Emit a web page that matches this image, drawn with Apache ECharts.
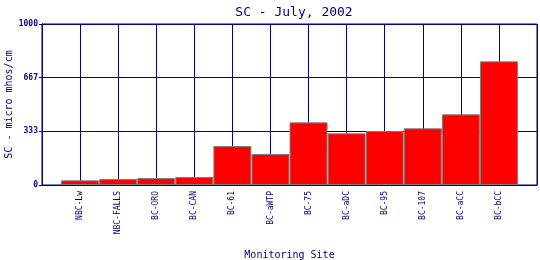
<!DOCTYPE html>
<html><head><meta charset="utf-8">
<script src="https://cdn.jsdelivr.net/npm/echarts@6/dist/echarts.min.js"></script>
<style>html,body{margin:0;padding:0;background:#fff}#c{width:540px;height:260px}</style>
</head><body><div id="c"></div>
<script>
var sites = ['NBC-Lw','NBC-FALLS','BC-ORO','BC-CAN','BC-61','BC-aWTP','BC-75','BC-aDC','BC-95','BC-107','BC-aCC','BC-bCC'];
var scValues = [29, 37, 43, 50, 242, 193, 389, 321, 335, 352, 439, 768];
var yTicks = [0, 333, 667, 1000];

var navy = '#000080';
var font = '"DejaVu Sans Mono", monospace';
var cats = [''].concat(sites).concat(['']);
var data = [null].concat(scValues).concat([null]);

var chart = echarts.init(document.getElementById('c'));
chart.setOption({
  animation: false,
  backgroundColor: '#fff',
  title: {
    text: 'SC - July, 2002', left: 289, top: 1, textAlign: 'center',
    textStyle: {color: navy, fontFamily: font, fontSize: 13, fontWeight: 'normal'}
  },
  grid: {left: 42, right: 3, top: 24, bottom: 75, containLabel: false, outerBoundsMode: 'none',
    show: true, borderColor: navy, borderWidth: 1, backgroundColor: 'transparent'},
  xAxis: {
    type: 'category', data: cats, boundaryGap: false,
    name: 'Monitoring Site', nameLocation: 'middle', nameGap: 65, nameMoveOverlap: false,
    nameTextStyle: {color: navy, fontFamily: font, fontSize: 10},
    axisLine: {show: true, lineStyle: {color: navy, width: 1}},
    axisTick: {show: false},
    axisLabel: {interval: 0, rotate: 90, color: navy, fontFamily: font, fontSize: 8, margin: 6},
    splitLine: {show: true, interval: 0, lineStyle: {color: navy, width: 1}}
  },
  yAxis: {
    type: 'value', min: 0, max: 1000, interval: 1000/3,
    name: 'SC - micro mhos/cm', nameLocation: 'middle', nameGap: 28, nameMoveOverlap: false,
    nameTextStyle: {color: navy, fontFamily: font, fontSize: 10},
    axisLine: {show: true, lineStyle: {color: navy, width: 1}},
    axisTick: {show: true, length: 3, lineStyle: {color: navy}},
    axisLabel: {color: navy, fontFamily: font, fontSize: 8, fontWeight: 'bold', margin: 4,
      formatter: function(v){ return String(Math.round(v)); }},
    splitLine: {show: true, lineStyle: {color: navy, width: 1}}
  },
  series: [{
    type: 'bar', data: data, barWidth: 38,
    itemStyle: {color: '#ff0000', borderColor: '#808080', borderWidth: 1}
  }]
});
</script></body></html>
